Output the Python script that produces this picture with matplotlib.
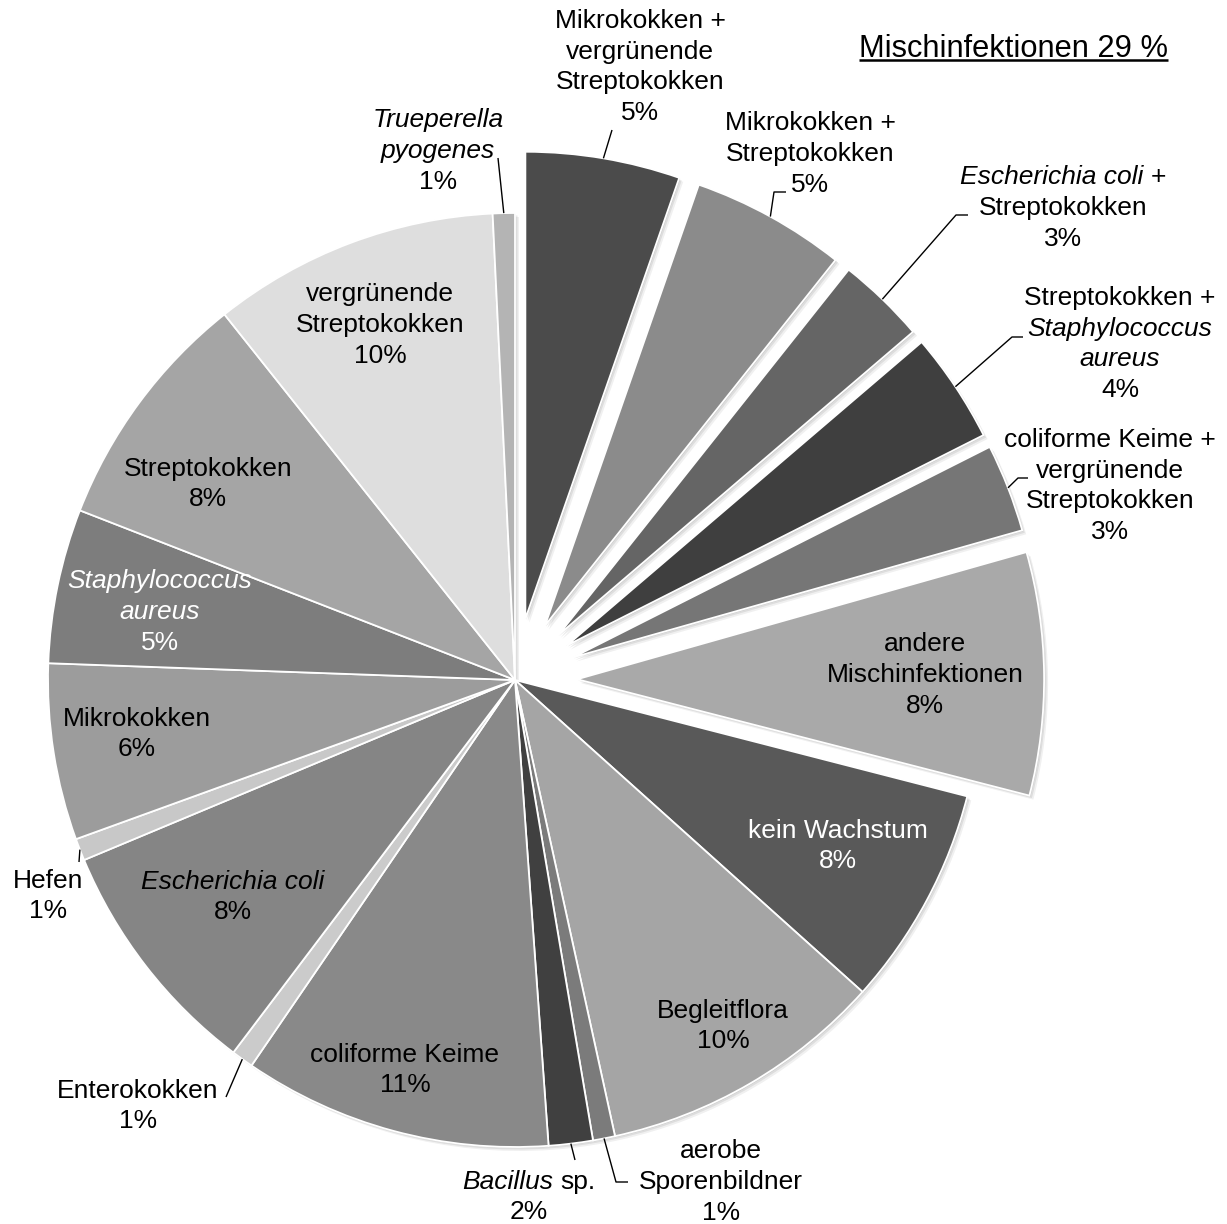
import math
import matplotlib
matplotlib.use("Agg")
import matplotlib.pyplot as plt
from matplotlib.offsetbox import TextArea, HPacker, VPacker, AnnotationBbox

plt.rcParams["font.family"] = ["Liberation Sans", "DejaVu Sans"]

# Befunde (Anzahl Proben), im Uhrzeigersinn ab 12 Uhr
categories = [
    "Mikrokokken + vergrünende Streptokokken",
    "Mikrokokken + Streptokokken",
    "Escherichia coli + Streptokokken",
    "Streptokokken + Staphylococcus aureus",
    "coliforme Keime + vergrünende Streptokokken",
    "andere Mischinfektionen",
    "kein Wachstum",
    "Begleitflora",
    "aerobe Sporenbildner",
    "Bacillus sp.",
    "coliforme Keime",
    "Enterokokken",
    "Escherichia coli",
    "Hefen",
    "Mikrokokken",
    "Staphylococcus aureus",
    "Streptokokken",
    "vergrünende Streptokokken",
    "Trueperella pyogenes",
]
counts = [7, 7, 4, 5, 4, 11, 10, 13, 1, 2, 14, 1, 11, 1, 8, 7, 11, 13, 1]
is_mixed = [True] * 6 + [False] * 13

# label text, line by line, as (text, italic) segments
label_lines = [
    [[("Mikrokokken +", False)], [("vergrünende", False)], [("Streptokokken", False)]],
    [[("Mikrokokken +", False)], [("Streptokokken", False)]],
    [[("Escherichia coli", True), ("+", False)], [("Streptokokken", False)]],
    [[("Streptokokken +", False)], [("Staphylococcus", True)], [("aureus", True)]],
    [[("coliforme Keime +", False)], [("vergrünende", False)], [("Streptokokken", False)]],
    [[("andere", False)], [("Mischinfektionen", False)]],
    [[("kein Wachstum", False)]],
    [[("Begleitflora", False)]],
    [[("aerobe", False)], [("Sporenbildner", False)]],
    [[("Bacillus", True), ("sp.", False)]],
    [[("coliforme Keime", False)]],
    [[("Enterokokken", False)]],
    [[("Escherichia coli", True)]],
    [[("Hefen", False)]],
    [[("Mikrokokken", False)]],
    [[("Staphylococcus", True)], [("aureus", True)]],
    [[("Streptokokken", False)]],
    [[("vergrünende", False)], [("Streptokokken", False)]],
    [[("Trueperella", True)], [("pyogenes", True)]],
]

colors = [
    "#4b4b4b", "#8b8b8b", "#656565", "#3f3f3f", "#767676", "#a9a9a9",
    "#595959", "#a5a5a5", "#7b7b7b", "#404040", "#898989", "#cbcbcb",
    "#858585", "#c8c8c8", "#9c9c9c", "#7d7d7d", "#a5a5a5", "#dedede",
    "#b4b4b4",
]
white_text = {6, 15}

# ---- layout (pixels, measured from the top-left corner) ----
W, H = 1227, 1224
CX, CY, R = 515, 680, 467
EXPLODE = 0.133          # fraction of the radius
FS = 19
LINE_GAP = 5.0

label_pos = {
    0: (640, 67), 1: (810, 154), 2: (1063, 208), 3: (1120, 344),
    4: (1110, 486), 5: (925, 675), 6: (838, 846), 7: (723, 1026),
    8: (721, 1182), 9: (529, 1197), 10: (405, 1070), 11: (138, 1106),
    12: (233, 897), 13: (48, 896), 14: (137, 734), 15: (160, 612),
    16: (208, 484), 17: (380, 325), 18: (438, 151),
}
leaders = {
    0: [(612, 130)],
    1: [(774, 192), (786, 192)],
    2: [(956, 215), (968, 215)],
    3: [(1012, 337), (1023, 337)],
    4: [(1018, 478), (1028, 478)],
    8: [(616, 1182), (628, 1182)],
    9: [(575, 1160)],
    11: [(226, 1097)],
    13: [(79, 862)],
    18: [(498, 158)],
}


def P(x, y):
    """pixel position from the top-left -> data coordinates"""
    return x, H - y


fig = plt.figure(figsize=(W / 100, H / 100), dpi=100)
ax = fig.add_axes([0, 0, 1, 1])

# pie() offsets exploded wedges in data units, so scale by the radius
explode = [EXPLODE * R if m else 0.0 for m in is_mixed]
center = P(CX, CY)

# soft drop shadow below the slices
for off, alpha in [(1.0, 0.10), (2.5, 0.08), (4.0, 0.06)]:
    ax.pie(counts, colors=["black"] * len(counts), startangle=90,
           counterclock=False, explode=explode, radius=R,
           center=(center[0] + off, center[1] - off),
           wedgeprops=dict(linewidth=0, alpha=alpha))

wedges, _ = ax.pie(counts, colors=colors, startangle=90, counterclock=False,
                   explode=explode, radius=R, center=center,
                   wedgeprops=dict(edgecolor="white", linewidth=1.3))

ax.set_xlim(0, W)
ax.set_ylim(0, H)
ax.set_aspect("auto")
ax.axis("off")

total = sum(counts)


def make_label(lines, color):
    rows = []
    for segs in lines:
        parts = [TextArea(t, textprops=dict(fontsize=FS, color=color,
                                            fontstyle="italic" if it else "normal"))
                 for t, it in segs]
        rows.append(HPacker(children=parts, sep=FS * 0.278, pad=0, align="baseline"))
    return VPacker(children=rows, sep=LINE_GAP, pad=0, align="center")


for i, (c, lines) in enumerate(zip(counts, label_lines)):
    pct = 100.0 * c / total
    color = "white" if i in white_text else "black"
    box = make_label(lines + [[(f"{pct:.0f}%", False)]], color)
    ab = AnnotationBbox(box, P(*label_pos[i]), xycoords="data", frameon=False,
                        box_alignment=(0.5, 0.5), pad=0, zorder=5)
    ax.add_artist(ab)

    if i in leaders:
        w = wedges[i]
        ang = math.radians((w.theta1 + w.theta2) / 2.0)
        x0 = w.center[0] + w.r * math.cos(ang)
        y0 = w.center[1] + w.r * math.sin(ang)
        xs = [x0] + [P(*p)[0] for p in leaders[i]]
        ys = [y0] + [P(*p)[1] for p in leaders[i]]
        ax.plot(xs, ys, color="black", linewidth=1.0, zorder=4,
                solid_capstyle="butt")

# headline for the mixed infections, underlined
mixed_pct = 100.0 * sum(c for c, m in zip(counts, is_mixed) if m) / total
title = ax.text(*P(859, 57), f"Mischinfektionen {mixed_pct:.0f} %",
                fontsize=22.2, ha="left", va="baseline", color="black")
fig.canvas.draw()
bb = title.get_window_extent(fig.canvas.get_renderer())
x_left, _ = ax.transData.inverted().transform((bb.x0, bb.y0))
x_right, _ = ax.transData.inverted().transform((bb.x1, bb.y0))
ax.plot([x_left, x_right], [H - 59.5, H - 59.5], color="black", linewidth=1.8,
        solid_capstyle="butt")

fig.savefig("out.png", dpi=100, facecolor="white")
